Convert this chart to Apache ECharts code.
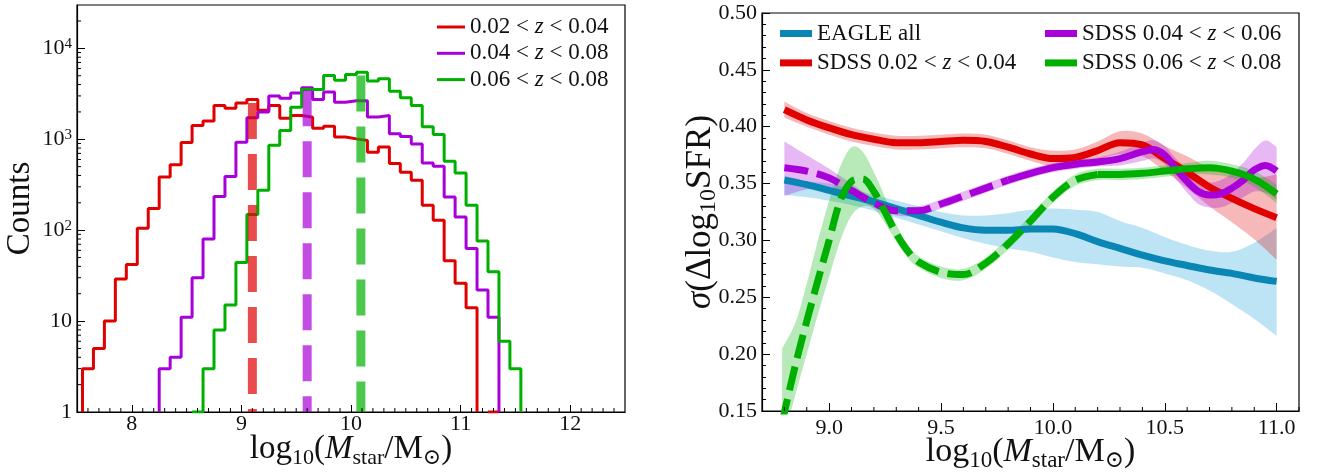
<!DOCTYPE html>
<html><head><meta charset="utf-8">
<script src="https://cdn.jsdelivr.net/npm/echarts@6/dist/echarts.min.js"></script>
<style>html,body{margin:0;padding:0;background:#fff}#c{width:1320px;height:472px}</style>
</head><body><div id="c"></div>
<script>
const FONT = '"Liberation Serif", "DejaVu Serif", serif';

// ---------- Left panel: histograms (bin width 0.1) ----------
const histNames = ['0.02 < z < 0.04', '0.04 < z < 0.08', '0.06 < z < 0.08'];
const binWidth = 0.1;
const redStart = 7.55;
const redCounts = [3,5,10,29,42,105,173,385,526,920,1420,1590,2350,2190,2500,2740,2090,2350,1700,1830,1750,1320,1390,1060,1010,970,720,820,540,435,355,188,129,46,26,14,0,1];
const purpleStart = 8.25;
const purpleCounts = [3,4,11,30,80,235,390,930,1730,2000,3000,2830,3230,3700,2740,3320,2560,2650,2650,1760,1830,1150,1070,890,550,505,232,140,63,22,11];
const greenStart = 8.55;
const greenCounts = [1,3,8,15,44,149,275,860,1250,2250,3530,3530,5020,4450,5150,5460,4370,4640,3380,2870,2350,1370,1130,575,425,188,76,35,6,3];
const medianX = [9.10, 9.60, 10.09];
const medianTop = [2500, 3460, 5020];
const leftXTicks = [8, 9, 10, 11, 12];
const leftXMinor = [7.6,7.7,7.8,7.9,8.1,8.2,8.3,8.4,8.5,8.6,8.7,8.8,8.9,9.1,9.2,9.3,9.4,9.5,9.6,9.7,9.8,9.9,10.1,10.2,10.3,10.4,10.5,10.6,10.7,10.8,10.9,11.1,11.2,11.3,11.4,11.5,11.6,11.7,11.8,11.9,12.1,12.2,12.3,12.4];
const logMinor = [2,3,4,5,6,7,8,9,20,30,40,50,60,70,80,90,200,300,400,500,600,700,800,900,2000,3000,4000,5000,6000,7000,8000,9000,20000];

// ---------- Right panel ----------
const seriesNames = ['EAGLE all', 'SDSS 0.02 < z < 0.04', 'SDSS 0.04 < z < 0.06', 'SDSS 0.06 < z < 0.08'];
const eagleX  = [8.8,8.9,9.0,9.1,9.2,9.3,9.4,9.5,9.6,9.7,9.8,9.9,10.0,10.1,10.2,10.3,10.4,10.5,10.6,10.7,10.8,10.9,11.0];
const eagleY  = [0.353,0.349,0.344,0.339,0.334,0.328,0.322,0.316,0.311,0.309,0.309,0.310,0.310,0.306,0.299,0.293,0.287,0.282,0.278,0.274,0.271,0.267,0.264];
const eagleLo = [0.340,0.338,0.335,0.331,0.326,0.320,0.314,0.308,0.302,0.297,0.293,0.290,0.285,0.281,0.279,0.277,0.276,0.271,0.265,0.256,0.244,0.231,0.216];
const eagleHi = [0.357,0.352,0.350,0.345,0.340,0.335,0.330,0.325,0.322,0.322,0.324,0.327,0.328,0.327,0.325,0.317,0.311,0.303,0.296,0.291,0.290,0.298,0.311];

const redX  = [8.8,8.9,9.0,9.1,9.2,9.3,9.4,9.5,9.6,9.7,9.8,9.9,10.0,10.1,10.2,10.3,10.4,10.5,10.6,10.7,10.8,10.9,11.0];
const redY  = [0.415,0.406,0.399,0.393,0.389,0.386,0.386,0.387,0.388,0.387,0.382,0.376,0.372,0.373,0.379,0.386,0.384,0.372,0.360,0.347,0.337,0.328,0.320];
const redLo = [0.408,0.400,0.393,0.387,0.383,0.380,0.380,0.381,0.382,0.381,0.376,0.370,0.365,0.366,0.371,0.376,0.374,0.361,0.346,0.330,0.316,0.301,0.283];
const redHi = [0.422,0.412,0.405,0.399,0.395,0.392,0.392,0.393,0.394,0.393,0.388,0.382,0.379,0.380,0.387,0.396,0.394,0.383,0.374,0.364,0.358,0.355,0.358];

const purpleX  = [8.8,8.9,9.0,9.1,9.2,9.3,9.4,9.5,9.6,9.7,9.8,9.9,10.0,10.1,10.2,10.3,10.4,10.45,10.5,10.55,10.6,10.65,10.7,10.75,10.8,10.85,10.9,10.95,11.0];
const purpleY  = [0.364,0.361,0.355,0.344,0.333,0.326,0.326,0.332,0.339,0.346,0.353,0.359,0.364,0.367,0.369,0.372,0.378,0.380,0.375,0.363,0.352,0.343,0.340,0.341,0.346,0.353,0.362,0.366,0.361];
const purpleLo = [0.339,0.345,0.347,0.339,0.329,0.322,0.322,0.328,0.335,0.342,0.349,0.355,0.360,0.363,0.365,0.366,0.370,0.372,0.367,0.354,0.342,0.332,0.329,0.329,0.333,0.338,0.343,0.342,0.336];
const purpleHi = [0.387,0.375,0.363,0.350,0.337,0.330,0.330,0.336,0.343,0.350,0.357,0.363,0.368,0.371,0.373,0.378,0.386,0.388,0.383,0.372,0.362,0.354,0.351,0.353,0.359,0.368,0.380,0.388,0.382];
const purpleDashEnd = 9.8;

const greenX  = [8.79,8.85,8.9,8.95,9.0,9.05,9.1,9.15,9.2,9.25,9.3,9.35,9.4,9.5,9.6,9.7,9.8,9.9,10.0,10.1,10.2,10.3,10.4,10.5,10.6,10.7,10.8,10.9,11.0];
const greenY  = [0.140,0.191,0.229,0.265,0.300,0.335,0.352,0.354,0.343,0.325,0.306,0.291,0.281,0.272,0.270,0.280,0.297,0.317,0.338,0.353,0.358,0.358,0.359,0.361,0.363,0.364,0.361,0.354,0.341];
const greenLo = [0.120,0.165,0.200,0.235,0.268,0.300,0.322,0.330,0.328,0.315,0.299,0.285,0.276,0.267,0.265,0.275,0.292,0.312,0.333,0.348,0.353,0.353,0.354,0.356,0.358,0.358,0.355,0.347,0.333];
const greenHi = [0.205,0.228,0.262,0.300,0.335,0.365,0.382,0.378,0.360,0.338,0.314,0.297,0.286,0.277,0.275,0.285,0.302,0.322,0.343,0.358,0.363,0.363,0.364,0.366,0.368,0.370,0.367,0.361,0.349];
const greenDashEnd = 10.2;

const rightXTicks = [9.0, 9.5, 10.0, 10.5, 11.0];
const rightXMinor = [8.8,8.9,9.1,9.2,9.3,9.4,9.6,9.7,9.8,9.9,10.1,10.2,10.3,10.4,10.6,10.7,10.8,10.9,11.1];

// ---------- colours ----------
const cRed = '#e00000', cPurple = '#a800d8', cGreen = '#00b000', cBlue = '#0a86b4';
const SMOOTH = 1 / 3;

// ---------- helpers ----------
function stepPoints(start, counts) {
  const pts = [[start, 1]];
  let xEnd = start;
  counts.forEach((c, i) => {
    const x0 = +(start + i * binWidth).toFixed(2);
    const x1 = +(start + (i + 1) * binWidth).toFixed(2);
    if (c <= 0) { pts.push([x0, 1]); pts.push([x0, null]); }
    else { pts.push([x0, c]); pts.push([x1, c]); }
    xEnd = x1;
  });
  pts.push([xEnd, 1]);
  return pts;
}
function zip(xs, ys) { return xs.map((x, i) => [x, ys[i]]); }
function tickSeries(xi, yi, data, dir, len) {
  return {
    type: 'custom', xAxisIndex: xi, yAxisIndex: yi, clip: false, silent: true, z: 6,
    renderItem: (params, api) => {
      const p = api.coord([api.value(0), api.value(1)]);
      const shape = dir === 'x' ? {x1: p[0], y1: p[1], x2: p[0], y2: p[1] - len}
                                : {x1: p[0], y1: p[1], x2: p[0] + len, y2: p[1]};
      return {type: 'line', shape: shape, style: {stroke: '#000', lineWidth: 1}};
    },
    data: data
  };
}
// Catmull-Rom sampling in pixel space (rendering only)
function smoothPath(pts) {
  const out = [];
  for (let i = 0; i < pts.length - 1; i++) {
    const p0 = pts[i - 1] || pts[i], p1 = pts[i], p2 = pts[i + 1], p3 = pts[i + 2] || pts[i + 1];
    for (let s = 0; s < 8; s++) {
      const t = s / 8, t2 = t * t, t3 = t2 * t;
      out.push([0, 1].map(k => 0.5 * (2 * p1[k] + (-p0[k] + p2[k]) * t +
        (2 * p0[k] - 5 * p1[k] + 4 * p2[k] - p3[k]) * t2 + (-p0[k] + 3 * p1[k] - 3 * p2[k] + p3[k]) * t3)));
    }
  }
  out.push(pts[pts.length - 1]);
  return out;
}
function bandSeries(xs, lo, hi, color, opacity) {
  return {
    type: 'custom', xAxisIndex: 1, yAxisIndex: 1, clip: true, silent: true, z: 1,
    data: zip(xs, lo),
    renderItem: (params, api) => {
      if (params.dataIndex !== 0) return null;
      const up = xs.map((x, i) => api.coord([x, hi[i]]));
      const dn = xs.map((x, i) => api.coord([x, lo[i]])).reverse();
      const pts = smoothPath(up).concat(smoothPath(dn));
      return {type: 'polygon', shape: {points: pts}, style: {fill: color, opacity: opacity}};
    }
  };
}
function curve(name, xs, ys, color, dashed) {
  return {type: 'line', name: name, xAxisIndex: 1, yAxisIndex: 1, smooth: SMOOTH, symbol: 'none',
    data: zip(xs, ys), itemStyle: {color: color},
    lineStyle: {color: color, width: 7, type: dashed ? [24, 9] : 'solid', cap: 'butt'}, z: 2};
}
function splitAt(xs, ys, xv, before) {
  const out = [[], []];
  xs.forEach((x, i) => { if (before ? x <= xv + 1e-9 : x >= xv - 1e-9) { out[0].push(x); out[1].push(ys[i]); } });
  return out;
}

const massName = '{a|log}{s|10}{a|(}{i|M}{s|star}{a|/M}{s|⊙}{a|)}';
function massRich(fs) {
  return {
    a: {fontFamily: FONT, fontSize: fs, color: '#111', lineHeight: fs + 6},
    i: {fontFamily: FONT, fontSize: fs, color: '#111', fontStyle: 'italic', lineHeight: fs + 6},
    s: {fontFamily: FONT, fontSize: Math.round(fs * 0.68), color: '#111', lineHeight: Math.round(fs * 0.68), verticalAlign: 'bottom'}
  };
}

const tickFS = 22;
const series = [];

[[redStart, redCounts, cRed], [purpleStart, purpleCounts, cPurple], [greenStart, greenCounts, cGreen]].forEach((h, k) => {
  series.push({type: 'line', name: histNames[k], xAxisIndex: 0, yAxisIndex: 0, symbol: 'none',
    data: stepPoints(h[0], h[1]), itemStyle: {color: h[2]},
    lineStyle: {color: h[2], width: 3}, connectNulls: false, z: 3});
});
[cRed, cPurple, cGreen].forEach((c, k) => {
  series.push({type: 'line', name: 'median' + k, xAxisIndex: 0, yAxisIndex: 0, symbol: 'none', silent: true,
    data: [[medianX[k], medianTop[k]], [medianX[k], 1]],
    lineStyle: {color: c, width: 9, opacity: 0.7, type: [36, 15], cap: 'butt'}, z: 4});
});
series.push(tickSeries(0, 0, leftXMinor.map(v => [v, 1]), 'x', 4));
series.push(tickSeries(0, 0, logMinor.map(v => [7.5, v]), 'y', 4));

series.push(bandSeries(eagleX, eagleLo, eagleHi, '#87ceeb', 0.55));
series.push(curve(seriesNames[0], eagleX, eagleY, cBlue, false));
series.push(bandSeries(redX, redLo, redHi, cRed, 0.28));
series.push(curve(seriesNames[1], redX, redY, cRed, false));
series.push(bandSeries(purpleX, purpleLo, purpleHi, cPurple, 0.28));
let pd = splitAt(purpleX, purpleY, purpleDashEnd, true), ps = splitAt(purpleX, purpleY, purpleDashEnd, false);
series.push(curve(seriesNames[2], ps[0], ps[1], cPurple, false));
series.push(curve(seriesNames[2], pd[0], pd[1], cPurple, true));
series.push(bandSeries(greenX, greenLo, greenHi, cGreen, 0.28));
let gd = splitAt(greenX, greenY, greenDashEnd, true), gs = splitAt(greenX, greenY, greenDashEnd, false);
series.push(curve(seriesNames[3], gs[0], gs[1], cGreen, false));
series.push(curve(seriesNames[3], gd[0], gd[1], cGreen, true));
series.push(tickSeries(1, 1, rightXMinor.map(v => [v, 0.15]), 'x', 4));

const axisLineStyle = {color: '#000', width: 1.2};
const legendText = (fs, lh) => ({fontFamily: FONT, fontSize: fs, color: '#111', lineHeight: lh,
  rich: {i: {fontFamily: FONT, fontSize: fs, fontStyle: 'italic', color: '#111', lineHeight: lh}}});
const fmtZ = n => n.replace(' z ', ' {i|z} ');
const option = {
  animation: false,
  backgroundColor: '#fff',
  grid: [
    {left: 77, top: 5, width: 548, height: 407, show: true, borderColor: '#000', borderWidth: 1.2,
     backgroundColor: 'transparent', containLabel: false, outerBoundsMode: 'none'},
    {left: 762, top: 13, width: 537, height: 398, show: true, borderColor: '#000', borderWidth: 1.2,
     backgroundColor: 'transparent', containLabel: false, outerBoundsMode: 'none'}
  ],
  legend: [
    {data: histNames, left: 437, top: 15.5, padding: 0, orient: 'vertical', itemGap: 3.3, itemWidth: 28, itemHeight: 3,
     icon: 'rect', selectedMode: false, formatter: fmtZ, textStyle: legendText(23, 22)},
    {data: seriesNames.slice(0, 2), left: 780, top: 22, padding: 0, orient: 'vertical', itemGap: 6.4, itemWidth: 32, itemHeight: 7,
     icon: 'rect', selectedMode: false, formatter: fmtZ, textStyle: legendText(23, 22)},
    {data: seriesNames.slice(2), left: 1045, top: 22, padding: 0, orient: 'vertical', itemGap: 6.4, itemWidth: 32, itemHeight: 7,
     icon: 'rect', selectedMode: false, formatter: fmtZ, textStyle: legendText(23, 22)}
  ],
  xAxis: [
    {gridIndex: 0, type: 'value', min: 7.5, max: 12.5,
     axisLine: {show: true, onZero: false, lineStyle: axisLineStyle},
     axisTick: {show: true, inside: true, length: 7, customValues: leftXTicks, lineStyle: {color: '#000'}},
     axisLabel: {customValues: leftXTicks, color: '#111', fontFamily: FONT, fontSize: tickFS, margin: 1},
     splitLine: {show: false},
     name: massName, nameLocation: 'middle', nameGap: 18, nameMoveOverlap: false, nameTextStyle: {rich: massRich(33)}},
    {gridIndex: 1, type: 'value', min: 8.7, max: 11.1,
     axisLine: {show: true, onZero: false, lineStyle: axisLineStyle},
     axisTick: {show: true, inside: true, length: 8, customValues: rightXTicks, lineStyle: {color: '#000'}},
     axisLabel: {customValues: rightXTicks, color: '#111', fontFamily: FONT, fontSize: tickFS, margin: 6, formatter: v => v.toFixed(1)},
     splitLine: {show: false},
     name: massName, nameLocation: 'middle', nameGap: 21, nameMoveOverlap: false, nameTextStyle: {rich: massRich(34)}}
  ],
  yAxis: [
    {gridIndex: 0, type: 'log', logBase: 10, min: 1, max: 30000,
     axisLine: {show: true, lineStyle: axisLineStyle},
     axisTick: {show: true, inside: true, length: 8, lineStyle: {color: '#000'}},
     axisLabel: {color: '#111', fontFamily: FONT, fontSize: tickFS, margin: 5, showMaxLabel: false,
       formatter: v => {
         const e = Math.round(Math.log10(v));
         if (e === 0) return '1';
         if (e === 1) return '10';
         return '{b|10}{p|' + e + '}';
       },
       rich: {b: {fontFamily: FONT, fontSize: tickFS, color: '#111', lineHeight: 24},
              p: {fontFamily: FONT, fontSize: 15, color: '#111', lineHeight: 13, verticalAlign: 'top'}}},
     splitLine: {show: false},
     name: 'Counts', nameLocation: 'middle', nameGap: 40, nameMoveOverlap: false,
     nameTextStyle: {fontFamily: FONT, fontSize: 33, color: '#111'}},
    {gridIndex: 1, type: 'value', min: 0.15, max: 0.5, interval: 0.05,
     axisLine: {show: true, lineStyle: axisLineStyle},
     axisTick: {show: true, inside: true, length: 8, lineStyle: {color: '#000'}},
     minorTick: {show: true, splitNumber: 5, length: 4, lineStyle: {color: '#000'}},
     axisLabel: {color: '#111', fontFamily: FONT, fontSize: tickFS, margin: 5, formatter: v => v.toFixed(2)},
     splitLine: {show: false},
     name: '{i|σ}{a|(Δlog}{s|10}{a|SFR)}', nameLocation: 'middle', nameGap: 41, nameMoveOverlap: false,
     nameTextStyle: {rich: {
       a: {fontFamily: FONT, fontSize: 35, color: '#111', lineHeight: 41},
       i: {fontFamily: FONT, fontSize: 35, color: '#111', fontStyle: 'italic', lineHeight: 41},
       s: {fontFamily: FONT, fontSize: 24, color: '#111', lineHeight: 24, verticalAlign: 'bottom'}}}}
  ],
  series: series
};
const chart = echarts.init(document.getElementById('c'), null, {renderer: 'canvas'});
chart.setOption(option);
</script>
</body></html>
